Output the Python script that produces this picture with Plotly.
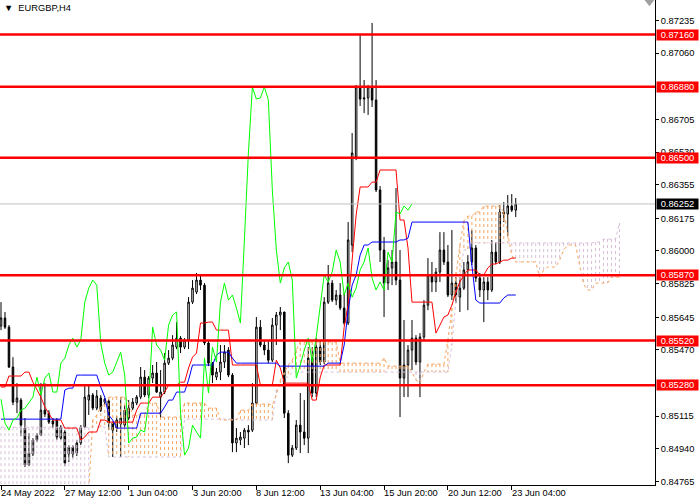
import plotly.graph_objects as go

# ---------------- data ----------------
open_ = [0.85598,0.85641,0.85592,0.85378,0.85190,0.85201,0.85051,0.84853,0.84912,0.84987,
0.85013,0.85147,0.85131,0.85089,0.85094,0.84997,0.85030,0.84912,0.84949,0.84917,
0.84971,0.85056,0.85201,0.85228,0.85158,0.85212,0.85190,0.85196,0.85078,0.85051,
0.85073,0.85067,0.85105,0.85158,0.85185,0.85217,0.85324,0.85228,0.85319,0.85346,
0.85217,0.85244,0.85399,0.85426,0.85485,0.85533,0.85485,0.85523,0.85726,0.85780,
0.85844,0.85817,0.85507,0.85399,0.85324,0.85351,0.85405,0.85469,0.85335,0.84971,
0.84987,0.84997,0.85040,0.85040,0.85185,0.85592,0.85496,0.85469,0.85415,0.85603,
0.85657,0.85673,0.85131,0.84906,0.84944,0.85067,0.85030,0.84997,0.85426,0.85239,
0.85485,0.85405,0.85726,0.85828,0.85737,0.85764,0.85694,0.85614,0.86032,0.86504,
0.86879,0.86814,0.86820,0.86879,0.86809,0.86327,0.86005,0.85828,0.85909,0.85941,
0.85844,0.85319,0.85389,0.85469,0.85533,0.85405,0.85539,0.85710,0.85871,0.85834,
0.85887,0.86005,0.85941,0.85764,0.85828,0.85753,0.85801,0.85898,0.85941,0.86016,
0.85855,0.85791,0.85834,0.85791,0.85994,0.85941,0.86209,0.86198,0.86241,0.86219]
high = [0.85726,0.85673,0.85603,0.85431,0.85292,0.85212,0.85105,0.85024,0.84997,0.85024,
0.85292,0.85292,0.85147,0.85105,0.85105,0.85067,0.85040,0.84960,0.84960,0.84987,
0.85067,0.85276,0.85281,0.85239,0.85255,0.85228,0.85212,0.85206,0.85089,0.85115,
0.85217,0.85174,0.85201,0.85212,0.85228,0.85378,0.85362,0.85330,0.85389,0.85405,
0.85362,0.85453,0.85469,0.85549,0.85619,0.85544,0.85533,0.85753,0.85844,0.85882,
0.85866,0.85828,0.85517,0.85405,0.85373,0.85496,0.85496,0.85485,0.85346,0.85051,
0.85030,0.85051,0.85067,0.85292,0.85646,0.85630,0.85523,0.85523,0.85641,0.85673,
0.85700,0.85673,0.85147,0.84960,0.85094,0.85239,0.85201,0.85485,0.85485,0.85533,
0.85523,0.85753,0.85925,0.85844,0.85791,0.85828,0.85775,0.86155,0.86632,0.86889,
0.87157,0.86916,0.86889,0.87222,0.86916,0.86348,0.86075,0.85951,0.86005,0.86337,
0.86005,0.85630,0.85496,0.85630,0.85549,0.85560,0.85737,0.85962,0.85941,0.85909,
0.86101,0.86101,0.86032,0.86112,0.85860,0.85860,0.85941,0.85978,0.86112,0.86032,
0.85882,0.85860,0.85860,0.86059,0.86048,0.86246,0.86262,0.86300,0.86305,0.86284]
low = [0.85576,0.85582,0.85373,0.85174,0.85131,0.85008,0.84842,0.84847,0.84901,0.84976,
0.85008,0.85110,0.85073,0.85051,0.84987,0.84987,0.84847,0.84869,0.84890,0.84901,
0.84960,0.85051,0.85121,0.85147,0.85147,0.85137,0.85174,0.85040,0.84896,0.85030,
0.84896,0.85056,0.85094,0.85147,0.85174,0.85206,0.85217,0.85212,0.85292,0.85239,
0.85105,0.85233,0.85389,0.85415,0.85474,0.85453,0.85474,0.85474,0.85716,0.85769,
0.85791,0.85496,0.85383,0.85292,0.85308,0.85308,0.85373,0.85324,0.84922,0.84922,
0.84960,0.84944,0.84960,0.85030,0.85174,0.85485,0.85442,0.85399,0.85405,0.85496,
0.85576,0.85105,0.84863,0.84896,0.84933,0.84917,0.84960,0.84917,0.85217,0.85217,
0.85389,0.85394,0.85716,0.85726,0.85710,0.85683,0.85603,0.85603,0.85994,0.86487,
0.86777,0.86739,0.86729,0.86772,0.86316,0.85941,0.85646,0.85791,0.85817,0.85817,
0.85110,0.85217,0.85217,0.85362,0.85389,0.85217,0.85523,0.85683,0.85780,0.85780,
0.85834,0.85925,0.85753,0.85737,0.85721,0.85673,0.85791,0.85683,0.85925,0.85834,
0.85753,0.85619,0.85737,0.85780,0.85930,0.85930,0.86155,0.86080,0.86209,0.86182]
close = [0.85641,0.85592,0.85378,0.85190,0.85212,0.85067,0.84853,0.84917,0.84987,0.85013,
0.85147,0.85126,0.85083,0.85073,0.85003,0.85056,0.84863,0.84949,0.84912,0.84971,
0.85056,0.85217,0.85228,0.85158,0.85223,0.85147,0.85206,0.85078,0.85040,0.85094,
0.85105,0.85147,0.85158,0.85190,0.85217,0.85324,0.85228,0.85319,0.85346,0.85244,
0.85244,0.85399,0.85426,0.85496,0.85533,0.85485,0.85523,0.85726,0.85801,0.85844,
0.85817,0.85507,0.85399,0.85335,0.85351,0.85405,0.85458,0.85335,0.84971,0.84997,
0.85003,0.85040,0.85030,0.85185,0.85592,0.85496,0.85469,0.85415,0.85603,0.85657,
0.85673,0.85131,0.84906,0.84944,0.85067,0.85030,0.84997,0.85426,0.85239,0.85485,
0.85405,0.85726,0.85828,0.85737,0.85764,0.85694,0.85614,0.86059,0.86525,0.86879,
0.86814,0.86820,0.86879,0.86809,0.86327,0.86005,0.85828,0.85909,0.85941,0.85844,
0.85319,0.85389,0.85469,0.85533,0.85405,0.85539,0.85710,0.85871,0.85834,0.85887,
0.86005,0.85941,0.85764,0.85828,0.85753,0.85801,0.85898,0.85941,0.86016,0.85855,
0.85791,0.85834,0.85791,0.85994,0.85941,0.86209,0.86198,0.86241,0.86219,0.86252]

tenkan = [0.85271,0.85271,0.85330,0.85330,0.85330,0.85330,0.85351,0.85351,0.85297,0.85255,
0.85217,0.85164,0.85131,0.85094,0.85094,0.85094,0.85051,0.85051,0.85051,0.85051,
0.84987,0.85003,0.85030,0.85030,0.85030,0.85094,0.85094,0.85083,0.85083,0.85083,
0.85083,0.85083,0.85083,0.85083,0.85147,0.85185,0.85185,0.85185,0.85217,0.85217,
0.85217,0.85244,0.85281,0.85281,0.85281,0.85297,0.85297,0.85373,0.85431,0.85453,
0.85614,0.85614,0.85619,0.85619,0.85576,0.85576,0.85576,0.85576,0.85389,0.85389,
0.85389,0.85389,0.85389,0.85389,0.85389,0.85281,0.85281,0.85281,0.85281,0.85415,
0.85373,0.85292,0.85292,0.85292,0.85292,0.85292,0.85292,0.85292,0.85201,0.85201,
0.85324,0.85389,0.85389,0.85389,0.85389,0.85389,0.85592,0.85710,0.85951,0.86193,
0.86343,0.86343,0.86343,0.86369,0.86369,0.86434,0.86434,0.86434,0.86434,0.86434,
0.86166,0.86166,0.86016,0.85726,0.85726,0.85726,0.85726,0.85726,0.85726,0.85560,
0.85603,0.85646,0.85657,0.85710,0.85780,0.85834,0.85871,0.85898,0.85898,0.85898,
0.85871,0.85871,0.85909,0.85930,0.85930,0.85941,0.85951,0.85951,0.85962,0.85962]
kijun = [0.85099,0.85099,0.85099,0.85099,0.85099,0.85099,0.85099,0.85099,0.85099,0.85099,
0.85099,0.85099,0.85099,0.85099,0.85099,0.85099,0.85255,0.85265,0.85265,0.85335,
0.85335,0.85335,0.85335,0.85335,0.85335,0.85271,0.85217,0.85121,0.85094,0.85051,
0.85051,0.85051,0.85051,0.85051,0.85051,0.85131,0.85131,0.85131,0.85131,0.85131,
0.85131,0.85164,0.85201,0.85201,0.85244,0.85244,0.85244,0.85308,0.85389,0.85389,
0.85389,0.85389,0.85389,0.85389,0.85442,0.85458,0.85458,0.85458,0.85426,0.85399,
0.85399,0.85399,0.85399,0.85399,0.85399,0.85399,0.85399,0.85399,0.85399,0.85399,
0.85383,0.85383,0.85383,0.85383,0.85383,0.85383,0.85383,0.85383,0.85383,0.85383,
0.85383,0.85383,0.85399,0.85399,0.85399,0.85399,0.85496,0.85683,0.85817,0.85871,
0.85978,0.86032,0.86032,0.86048,0.86048,0.86048,0.86048,0.86048,0.86048,0.86048,
0.86059,0.86059,0.86069,0.86155,0.86155,0.86155,0.86155,0.86155,0.86155,0.86155,
0.86155,0.86155,0.86155,0.86155,0.86155,0.86155,0.86155,0.86155,0.85925,0.85737,
0.85721,0.85721,0.85721,0.85721,0.85721,0.85721,0.85748,0.85764,0.85764,0.85764]
senkou_a = [0.84719,0.84719,0.84719,0.84719,0.84719,0.84719,0.84719,0.84719,0.84719,0.84719,
0.84719,0.84719,0.84719,0.84719,0.84719,0.84719,0.84719,0.84719,0.84719,0.84719,
0.84719,0.84719,0.84719,0.85094,0.85121,0.85164,0.85180,0.85217,0.85217,0.85217,
0.85217,0.85217,0.85190,0.85121,0.85121,0.85121,0.85121,0.85185,0.85185,0.85185,
0.85110,0.85110,0.85110,0.85110,0.85110,0.85110,0.85185,0.85185,0.85185,0.85185,
0.85185,0.85185,0.85158,0.85158,0.85158,0.85094,0.85094,0.85094,0.85094,0.85094,
0.85147,0.85147,0.85147,0.85180,0.85180,0.85180,0.85180,0.85180,0.85174,0.85228,
0.85308,0.85351,0.85389,0.85415,0.85469,0.85512,0.85512,0.85512,0.85512,0.85512,
0.85512,0.85512,0.85512,0.85512,0.85512,0.85399,0.85399,0.85399,0.85399,0.85399,
0.85399,0.85399,0.85399,0.85399,0.85399,0.85399,0.85426,0.85383,0.85383,0.85383,
0.85383,0.85383,0.85383,0.85351,0.85308,0.85292,0.85351,0.85394,0.85394,0.85394,
0.85394,0.85394,0.85523,0.85694,0.85887,0.86032,0.86161,0.86187,0.86187,0.86209,
0.86209,0.86241,0.86241,0.86241,0.86241,0.86241,0.86209,0.86085,0.85978,0.85941,
0.85941,0.85941,0.85941,0.85941,0.85941,0.85860,0.85898,0.85914,0.85914,0.85914,
0.85951,0.86005,0.86032,0.86032,0.86032,0.85925,0.85823,0.85791,0.85791,0.85828,
0.85828,0.85828,0.85828,0.85860,0.85860,0.85860]
senkou_b = [0.85056,0.85056,0.85056,0.85056,0.85056,0.85056,0.85056,0.85056,0.85056,0.85056,
0.85056,0.85056,0.85056,0.85056,0.85056,0.85056,0.85056,0.85056,0.85056,0.85056,
0.85056,0.85056,0.85056,0.85056,0.85056,0.85056,0.85056,0.84896,0.84896,0.84896,
0.84896,0.84896,0.84896,0.84896,0.84896,0.84896,0.84896,0.84896,0.84896,0.84896,
0.84896,0.84896,0.84896,0.84896,0.84896,0.84896,0.85099,0.85099,0.85099,0.85099,
0.85099,0.85099,0.85099,0.85099,0.85099,0.85099,0.85099,0.85099,0.85099,0.85099,
0.85094,0.85094,0.85094,0.85094,0.85094,0.85094,0.85094,0.85094,0.85094,0.85255,
0.85281,0.85324,0.85324,0.85351,0.85351,0.85351,0.85351,0.85351,0.85351,0.85351,
0.85351,0.85351,0.85351,0.85351,0.85351,0.85351,0.85351,0.85351,0.85351,0.85351,
0.85351,0.85351,0.85351,0.85351,0.85351,0.85351,0.85351,0.85351,0.85351,0.85351,
0.85351,0.85351,0.85351,0.85351,0.85351,0.85351,0.85351,0.85351,0.85351,0.85351,
0.85351,0.85351,0.85351,0.85496,0.85737,0.85871,0.86005,0.86005,0.86043,0.86043,
0.86043,0.86043,0.86043,0.86043,0.86043,0.86043,0.86043,0.86043,0.86043,0.86043,
0.86043,0.86043,0.86043,0.86043,0.86043,0.86043,0.86043,0.86043,0.86043,0.86043,
0.86043,0.86043,0.86043,0.86043,0.86043,0.86043,0.86043,0.86043,0.86043,0.86048,
0.86048,0.86064,0.86064,0.86064,0.86064,0.86150]

time_tick_index = [0, 16, 32, 48, 64, 80, 96, 112, 128]
time_tick_labels = ["24 May 2022", "27 May 12:00", "1 Jun 04:00", "3 Jun 20:00", "8 Jun 12:00",
                    "13 Jun 04:00", "15 Jun 20:00", "20 Jun 12:00", "23 Jun 04:00"]
price_ticks = [0.87235, 0.87060, 0.86705, 0.86530, 0.86355, 0.86175, 0.86000,
               0.85825, 0.85645, 0.85470, 0.85115, 0.84940, 0.84765]
level_lines = [0.87160, 0.86880, 0.86500, 0.85870, 0.85520, 0.85280]
bid_price = 0.86252
chikou_shift = 26
symbol_title = "EURGBP,H4"

# ---------------- figure ----------------
FONT = "Liberation Sans"
FS = 9.3
n = len(close)
bars = list(range(n))
cloud_x = list(range(len(senkou_a)))

fig = go.Figure()

# Kumo hatching (vertical dotted lines at each bar)
up_x, up_y, dn_x, dn_y = [], [], [], []
for i in cloud_x:
    a, b = senkou_a[i], senkou_b[i]
    if a >= b:
        up_x += [i, i, None]; up_y += [a, b, None]
    else:
        dn_x += [i, i, None]; dn_y += [b, a, None]
fig.add_trace(go.Scatter(x=dn_x, y=dn_y, mode="lines", hoverinfo="skip",
                         line=dict(color="#D8BFD8", width=1, dash="3px,3px")))
fig.add_trace(go.Scatter(x=up_x, y=up_y, mode="lines", hoverinfo="skip",
                         line=dict(color="#F4A460", width=1, dash="3px,3px")))
fig.add_trace(go.Scatter(x=cloud_x, y=senkou_b, mode="lines", hoverinfo="skip",
                         line=dict(color="#D8BFD8", width=1, dash="3px,3px")))
fig.add_trace(go.Scatter(x=cloud_x, y=senkou_a, mode="lines", hoverinfo="skip",
                         line=dict(color="#F4A460", width=1, dash="3px,3px")))

# Candles
fig.add_trace(go.Candlestick(
    x=bars, open=open_, high=high, low=low, close=close,
    increasing=dict(line=dict(color="black", width=1), fillcolor="white"),
    decreasing=dict(line=dict(color="black", width=1), fillcolor="black"),
    whiskerwidth=0, hoverinfo="skip"))

# Ichimoku lines
fig.add_trace(go.Scatter(x=bars, y=tenkan, mode="lines", line=dict(color="#FF0000", width=1)))
fig.add_trace(go.Scatter(x=bars, y=kijun, mode="lines", line=dict(color="#0000FF", width=1)))
fig.add_trace(go.Scatter(x=bars[:n - chikou_shift], y=close[chikou_shift:], mode="lines",
                         line=dict(color="#00FF00", width=1)))

shapes = []
shapes.append(dict(type="line", xref="paper", x0=0, x1=1, yref="y", y0=bid_price, y1=bid_price,
                   line=dict(color="#C0C0C0", width=1), layer="above"))
for lv in level_lines:
    shapes.append(dict(type="line", xref="paper", x0=0, x1=1, yref="y", y0=lv, y1=lv,
                       line=dict(color="#FF0000", width=2.5), layer="above"))
# small grey chart-shift marker at the top right
shapes.append(dict(type="path", xref="paper", yref="paper",
                   path="M 0.984 1 L 0.999 1 L 0.9915 0.987 Z",
                   fillcolor="#A0A0A0", line=dict(width=0)))

annotations = []
for idx, lab in zip(time_tick_index, time_tick_labels):
    annotations.append(dict(x=idx, xref="x", y=0, yref="paper", yanchor="top", xanchor="left",
                            text=lab, showarrow=False, xshift=-2, yshift=-1,
                            font=dict(family=FONT, size=FS, color="black")))
for lv in level_lines:
    annotations.append(dict(x=1, xref="paper", y=lv, yref="y", xanchor="left", yanchor="middle",
                            text=f"{lv:.5f}", showarrow=False, xshift=1, bgcolor="#FF0000",
                            borderpad=0, width=41, height=10, align="center",
                            font=dict(family=FONT, size=FS, color="white")))
annotations.append(dict(x=1, xref="paper", y=bid_price, yref="y", xanchor="left", yanchor="middle",
                        text=f"{bid_price:.5f}", showarrow=False, xshift=1, bgcolor="#000000",
                        borderpad=0, width=41, height=10, align="center",
                        font=dict(family=FONT, size=FS, color="white")))
annotations.append(dict(x=0, xref="paper", y=1, yref="paper", xanchor="left", yanchor="top",
                        text="\u25BC  " + symbol_title, showarrow=False, xshift=2, yshift=-1,
                        font=dict(family=FONT, size=FS, color="black")))

fig.update_layout(
    width=700, height=500, margin=dict(l=0, r=45, t=0, b=15),
    paper_bgcolor="white", plot_bgcolor="white", showlegend=False,
    boxgap=0.45,
    shapes=shapes, annotations=annotations,
    xaxis=dict(range=[-0.25, 163.9], showgrid=False, zeroline=False, showline=True,
               linecolor="black", linewidth=1, ticks="outside", ticklen=4, tickcolor="black",
               tickvals=time_tick_index, showticklabels=False,
               rangeslider=dict(visible=False)),
    yaxis=dict(side="right", range=[0.84746, 0.87345], showgrid=False, zeroline=False,
               showline=True, linecolor="black", linewidth=1, ticks="outside", ticklen=3,
               tickcolor="black", tickvals=price_ticks,
               ticktext=[f"{t:.5f}" for t in price_ticks],
               tickfont=dict(family=FONT, size=FS, color="black")),
)

fig.write_html("out.html", config={"displayModeBar": False},
               post_script="document.body.style.margin='0px';document.body.style.overflow='hidden';")
